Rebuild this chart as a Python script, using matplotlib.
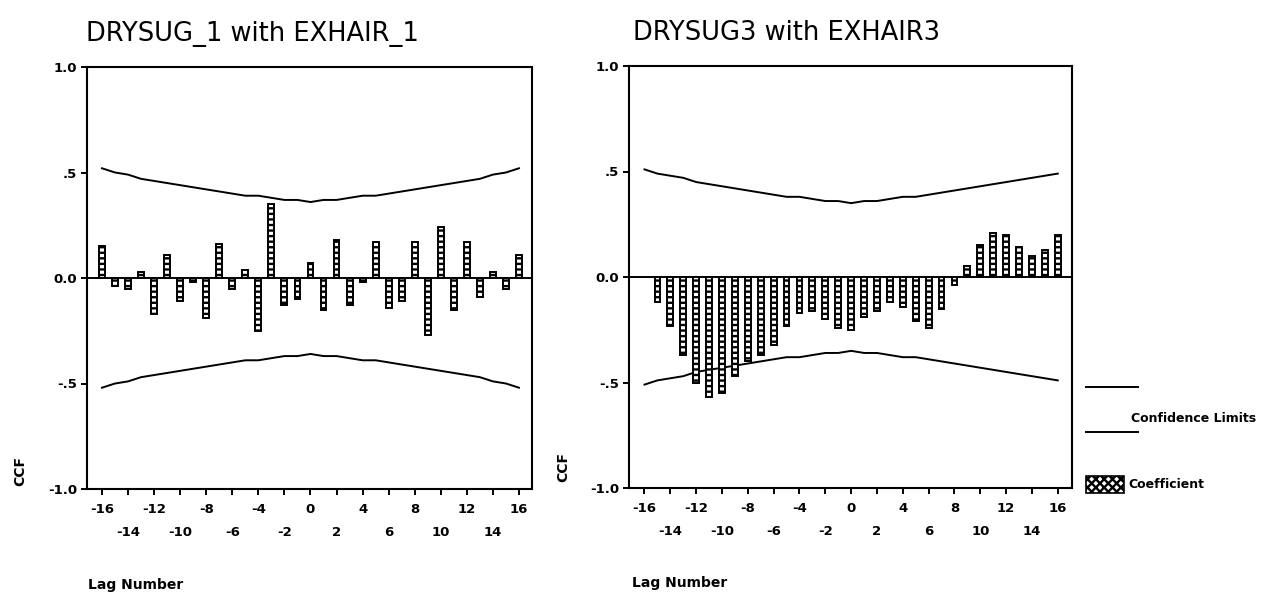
import numpy as np
import matplotlib
matplotlib.use('Agg')
import matplotlib.pyplot as plt
from matplotlib.lines import Line2D
from matplotlib.patches import Rectangle

plt.rcParams['font.family'] = ['DejaVu Sans']
plt.rcParams['hatch.linewidth'] = 1.7

# cross-correlations, DRYSUG_1 vs EXHAIR_1 (lags -16..16)
lags1 = list(range(-16, 17))
ccf1 = [0.15, -0.04, -0.05, 0.03, -0.17, 0.11, -0.11, -0.02, -0.19, 0.16, -0.05,
        0.04, -0.25, 0.35, -0.13, -0.10, 0.07, -0.15, 0.18, -0.13, -0.02, 0.17,
        -0.14, -0.11, 0.17, -0.27, 0.24, -0.15, 0.17, -0.09, 0.03, -0.05, 0.11]
conf1 = [0.52, 0.50, 0.49, 0.47, 0.46, 0.45, 0.44, 0.43, 0.42, 0.41, 0.40, 0.39,
         0.39, 0.38, 0.37, 0.37, 0.36, 0.37, 0.37, 0.38, 0.39, 0.39, 0.40, 0.41,
         0.42, 0.43, 0.44, 0.45, 0.46, 0.47, 0.49, 0.50, 0.52]

# cross-correlations, DRYSUG3 vs EXHAIR3 (lag -16 not available)
lags2 = list(range(-15, 17))
ccf2 = [-0.12, -0.23, -0.37, -0.50, -0.57, -0.55, -0.47, -0.40, -0.37, -0.32,
        -0.23, -0.17, -0.16, -0.20, -0.24, -0.25, -0.19, -0.16, -0.12, -0.14,
        -0.21, -0.24, -0.15, -0.04, 0.05, 0.15, 0.21, 0.20, 0.14, 0.10, 0.13, 0.20]
conf_lags2 = list(range(-16, 17))
conf2 = [0.51, 0.49, 0.48, 0.47, 0.45, 0.44, 0.43, 0.42, 0.41, 0.40, 0.39, 0.38,
         0.38, 0.37, 0.36, 0.36, 0.35, 0.36, 0.36, 0.37, 0.38, 0.38, 0.39, 0.40,
         0.41, 0.42, 0.43, 0.44, 0.45, 0.46, 0.47, 0.48, 0.49]

titles = ['DRYSUG_1 with EXHAIR_1', 'DRYSUG3 with EXHAIR3']
xticks = list(range(-16, 17, 2))
xlabels = [str(t) if t % 4 == 0 else '\n' + str(t) for t in xticks]
yticks = [1.0, 0.5, 0.0, -0.5, -1.0]
ylabels = ['1.0', '.5', '0.0', '-.5', '-1.0']

W, H = 1273, 594
fig = plt.figure(figsize=(W / 100, H / 100), dpi=100)

def px_axes(l, t, r, b):
    return fig.add_axes([l / W, 1 - b / H, (r - l) / W, (b - t) / H])

ax1 = px_axes(87, 67, 532, 489)
ax2 = px_axes(629, 66, 1072, 488)

panels = [
    (ax1, lags1, ccf1, lags1, conf1, (-17.15, 17.0)),
    (ax2, lags2, ccf2, conf_lags2, conf2, (-17.2, 17.1)),
]

for ax, lg, vals, cl, conf, xl in panels:
    ax.bar(lg, vals, width=0.45, facecolor='white', edgecolor='black',
           linewidth=1.4, hatch='---', zorder=3)
    ax.plot(cl, conf, color='black', lw=1.4)
    ax.plot(cl, [-c for c in conf], color='black', lw=1.4)
    ax.axhline(0, color='black', lw=1.4, zorder=4)
    ax.set_xlim(*xl)
    ax.set_ylim(-1.0, 1.0)
    ax.set_xticks(xticks)
    ax.set_xticklabels(xlabels, fontsize=9.5, fontweight='bold', linespacing=2.0)
    ax.set_yticks(yticks)
    ax.set_yticklabels(ylabels, fontsize=9.5, fontweight='bold')
    ax.tick_params(direction='out', length=4, width=1.4)
    ax.tick_params(axis='x', pad=6)
    ax.tick_params(axis='y', pad=3)
    for s in ax.spines.values():
        s.set_linewidth(1.5)

fig.text(86 / W, 1 - 41 / H, titles[0], fontsize=18.5, va='baseline', ha='left')
fig.text(633 / W, 1 - 40 / H, titles[1], fontsize=18.5, va='baseline', ha='left')

for x, y in [(20, 471), (563, 467)]:
    fig.text(x / W, 1 - y / H, 'CCF', rotation=90, fontsize=10, fontweight='bold',
             ha='center', va='center')
for x, y in [(88, 585), (632, 583)]:
    fig.text(x / W, 1 - y / H, 'Lag Number', fontsize=10, fontweight='bold',
             ha='left', va='center')

# legend to the right of the second panel
for y in [387, 432]:
    fig.add_artist(Line2D([1086 / W, 1138 / W], [1 - y / H, 1 - y / H],
                          color='black', lw=1.4))
fig.text(1131 / W, 1 - 418 / H, 'Confidence Limits', fontsize=9, fontweight='bold',
         ha='left', va='center')
fig.add_artist(Rectangle((1086 / W, 1 - 493 / H), 38 / W, 17 / H, facecolor='white',
                         edgecolor='black', hatch='xxxx', lw=1.2))
fig.text(1128 / W, 1 - 485 / H, 'Coefficient', fontsize=9, fontweight='bold',
         ha='left', va='center')

fig.savefig('out.png', dpi=100, facecolor='white')
